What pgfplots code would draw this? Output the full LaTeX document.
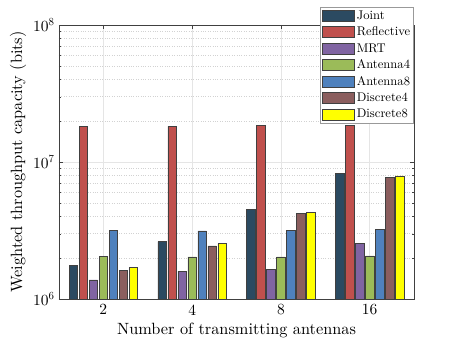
\documentclass[border=0pt]{standalone}
\usepackage{fontspec}
\setmainfont{lmroman10-regular.otf}
\usepackage{pgfplots}
\pgfplotsset{compat=1.18}
\definecolor{cJoint}{HTML}{2B4A61}
\definecolor{cRefl}{HTML}{C0504D}
\definecolor{cMRT}{HTML}{8064A2}
\definecolor{cAnt4}{HTML}{9BBB59}
\definecolor{cAnt8}{HTML}{4F81BD}
\definecolor{cDisc4}{HTML}{8B5E5E}
\definecolor{cDisc8}{HTML}{FFFF00}
\definecolor{cEdge}{HTML}{404040}
\begin{document}
\begin{tikzpicture}
\path[use as bounding box] (-59pt,-43pt) rectangle (398pt,299pt);
\begin{axis}[
    at={(0,0)}, anchor=south west,
    scale only axis,
    width=355pt, height=274pt,
    ymode=log,
    ymin=1e6, ymax=1e8,
    xmin=0.5, xmax=4.5,
    xtick={1,2,3,4},
    xticklabels={2,4,8,16},
    ytick={1e6,1e7,1e8},
    yticklabels={10\textsuperscript{6},10\textsuperscript{7},10\textsuperscript{8}},
    ybar=1.5pt,
    bar width=8.5pt,
    log origin=infty,
    axis line style={cEdge, line width=0.6pt},
    tick style={cEdge},
    tick align=inside,
    major tick length=4pt,
    minor tick length=2.5pt,
    xmajorgrids, ymajorgrids, yminorgrids,
    major grid style={gray!20, line width=0.5pt},
    minor grid style={gray!35, dotted, line width=0.4pt},
    tick label style={font=\fontsize{15.5}{18}\selectfont},
    xticklabel style={yshift=-2pt},
    yticklabel style={xshift=-1pt},
    label style={font=\fontsize{16.3}{19}\selectfont},
    xlabel={Number of transmitting antennas},
    ylabel={Weighted throughput capacity (bits)},
    xlabel style={yshift=-1pt},
    legend cell align=left,
    legend style={at={(1,1.066)}, anchor=north east, draw=gray!80, line width=0.6pt,
        font=\fontsize{12.6}{15}\selectfont, inner sep=1.5pt, row sep=2.15pt,
        /tikz/every even column/.append style={column sep=0pt}},
    legend image code/.code={\draw[#1,/tikz/.cd] (0pt,-5.5pt) rectangle (32pt,5.5pt);},
    every axis plot/.append style={draw=cEdge, line width=0.6pt},
]
\addplot[fill=cJoint] coordinates {(1,1.76e6) (2,2.62e6) (3,4.48e6) (4,8.22e6)};
\addlegendentry{Joint}
\addplot[fill=cRefl] coordinates {(1,1.83e7) (2,1.82e7) (3,1.86e7) (4,1.86e7)};
\addlegendentry{Reflective}
\addplot[fill=cMRT] coordinates {(1,1.38e6) (2,1.59e6) (3,1.64e6) (4,2.53e6)};
\addlegendentry{MRT}
\addplot[fill=cAnt4] coordinates {(1,2.04e6) (2,2.03e6) (3,2.03e6) (4,2.06e6)};
\addlegendentry{Antenna4}
\addplot[fill=cAnt8] coordinates {(1,3.17e6) (2,3.14e6) (3,3.17e6) (4,3.23e6)};
\addlegendentry{Antenna8}
\addplot[fill=cDisc4] coordinates {(1,1.62e6) (2,2.44e6) (3,4.19e6) (4,7.77e6)};
\addlegendentry{Discrete4}
\addplot[fill=cDisc8] coordinates {(1,1.70e6) (2,2.53e6) (3,4.29e6) (4,7.91e6)};
\addlegendentry{Discrete8}
\end{axis}
\end{tikzpicture}
\end{document}
